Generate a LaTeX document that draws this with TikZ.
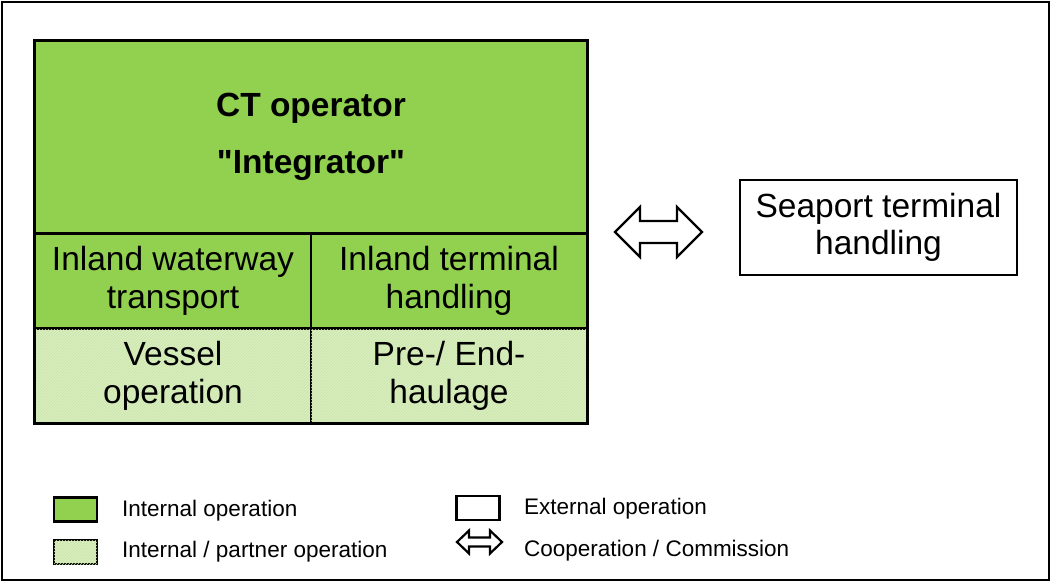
\documentclass[tikz,border=0pt]{standalone}
\usepackage{fontspec}
\setmainfont{Liberation Sans}[Ligatures=TeXOff]
\usetikzlibrary{patterns}
\definecolor{cgreen}{HTML}{92D050}
\definecolor{clight}{HTML}{D9EEC1}
\definecolor{chatch}{HTML}{C9E4A6}
\begin{document}
\begin{tikzpicture}[x=1pt,y=-1pt,
  cell/.style={draw=black,line width=1.8pt,minimum width=276pt,minimum height=94pt,inner sep=0pt,align=center,font=\fontsize{33.5}{38}\selectfont},
  internal/.style={cell,fill=cgreen},
  partner/.style={cell,fill=clight,postaction={pattern=north east lines,pattern color=chatch}},
  legbox/.style={draw=black,line width=2.2pt,minimum width=43pt,minimum height=24pt,inner sep=0pt},
  legtext/.style={anchor=west,inner sep=0pt,font=\fontsize{22.5}{24}\selectfont},
  hollowarrow/.style={draw=black,line width=2.4pt,fill=white,line join=miter}]
\useasboundingbox (0,0) rectangle (1051,582);
\node[draw=black,line width=1.6pt,minimum width=1047pt,minimum height=578pt,inner sep=0pt] (frame) at (525.5,291) {};
% main block
\node[internal,minimum width=552pt,minimum height=192pt,font=\bfseries\fontsize{33.5}{57}\selectfont] (ct) at (311,137) {CT operator\\"Integrator"};
\node[internal] (iwt) at (173,281) {Inland waterway\\transport};
\node[internal] (ith) at (449,281) {Inland terminal\\handling};
\node[partner] (vo) at (173,376) {Vessel\\operation};
\node[partner] (peh) at (449,376) {Pre-/ End-\\haulage};
\draw[line width=3pt] (ct.north west) rectangle (peh.south east);
% seaport
\node[draw=black,line width=2pt,minimum width=277pt,minimum height=95pt,inner sep=0pt,align=center,font=\fontsize{33.5}{37}\selectfont] (sea) at (878.5,227.5) {Seaport terminal\\handling};
% cooperation arrow
\draw[hollowarrow] (615,232) -- (640,207) -- (640,221) -- (677,221) -- (677,207) -- (702,232) -- (677,257) -- (677,243) -- (640,243) -- (640,257) -- cycle;
% legend
\node[legbox,fill=cgreen] (l1) at (75.5,509.5) {};
\node[legtext] (t1) at (122,511) {Internal operation};
\node[legbox,fill=clight,postaction={pattern=north east lines,pattern color=chatch}] (l2) at (75.5,552) {};
\node[legtext] (t2) at (122,552) {Internal / partner operation};
\node[legbox] (l3) at (478,508) {};
\node[legtext] (t3) at (524,509) {External operation};
\draw[hollowarrow,line width=2.2pt] (457,542) -- (469,530.5) -- (469,537.5) -- (490,537.5) -- (490,530.5) -- (502,542) -- (490,553.5) -- (490,546.5) -- (469,546.5) -- (469,553.5) -- cycle;
\node[legtext] (t4) at (524,551) {Cooperation / Commission};
\end{tikzpicture}
\end{document}
